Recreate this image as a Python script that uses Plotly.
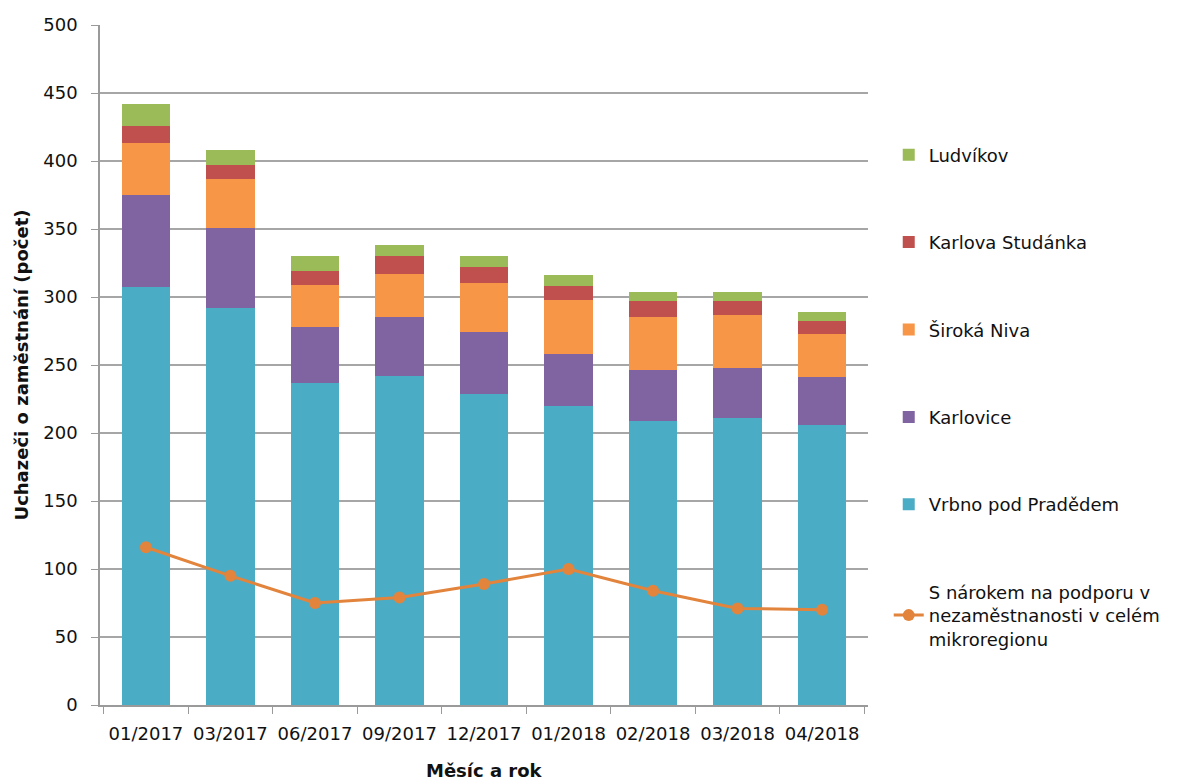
import plotly.graph_objects as go

months = ["01/2017", "03/2017", "06/2017", "09/2017", "12/2017", "01/2018", "02/2018", "03/2018", "04/2018"]
vrbno = [307, 292, 237, 242, 229, 220, 209, 211, 206]
karlovice = [68, 59, 41, 43, 45, 38, 37, 37, 35]
siroka = [38, 36, 31, 32, 36, 40, 39, 39, 32]
karlova = [13, 10, 10, 13, 12, 10, 12, 10, 9]
ludvikov = [16, 11, 11, 8, 8, 8, 7, 7, 7]
narok = [116, 95, 75, 79, 89, 100, 84, 71, 70]

FONT = "DejaVu Sans"
fig = go.Figure()
bars = [
    ("Vrbno pod Pradědem", vrbno, "#4BACC6", 5),
    ("Karlovice", karlovice, "#8064A2", 4),
    ("Široká Niva", siroka, "#F79646", 3),
    ("Karlova Studánka", karlova, "#C0504D", 2),
    ("Ludvíkov", ludvikov, "#9BBB59", 1),
]
for name, vals, col, rank in bars:
    fig.add_trace(go.Bar(x=months, y=vals, name=name, marker=dict(color=col, line=dict(width=0)),
                         legendrank=rank, legendgroup=name))
fig.add_trace(go.Scatter(x=months, y=narok, mode="lines+markers",
                         name="S nárokem na podporu v<br>nezaměstnanosti v celém<br>mikroregionu",
                         line=dict(color="#E2843C", width=3), marker=dict(color="#E2843C", size=12),
                         legendrank=6, legendgroup="line"))

fig.update_layout(
    width=1198, height=781, barmode="stack", bargap=0.425,
    margin=dict(l=100, r=330, t=25, b=76),
    paper_bgcolor="white", plot_bgcolor="white",
    font=dict(family=FONT, size=18, color="#111111"),
    showlegend=True,
    legend=dict(x=1.027, xanchor="left", y=0.836, yanchor="top", traceorder="grouped",
                tracegroupgap=61, font=dict(size=18, color="#111111"), itemwidth=30),
    xaxis=dict(type="category", showline=True, linecolor="#9A9A9A", linewidth=1.5,
               ticks="outside", tickson="boundaries", ticklen=7, tickcolor="#9A9A9A",
               ticklabelstandoff=12, automargin=False,
               tickfont=dict(size=18)),
    yaxis=dict(range=[0, 500], dtick=50, showgrid=True, gridcolor="#A6A6A6", gridwidth=1.5,
               showline=True, linecolor="#9A9A9A", linewidth=1.5, ticks="outside", ticklen=7,
               tickcolor="#9A9A9A", zeroline=False, ticklabelstandoff=10,
               title=dict(text="<b>Uchazeči o zaměstnání (počet)</b>", font=dict(size=18), standoff=10),
               tickfont=dict(size=18)),
    annotations=[dict(text="<b>Měsíc a rok</b>", xref="paper", yref="paper", x=0.5, y=-0.0956,
                      xanchor="center", yanchor="middle", showarrow=False, font=dict(size=18))],
)
fig.write_html("out.html")
